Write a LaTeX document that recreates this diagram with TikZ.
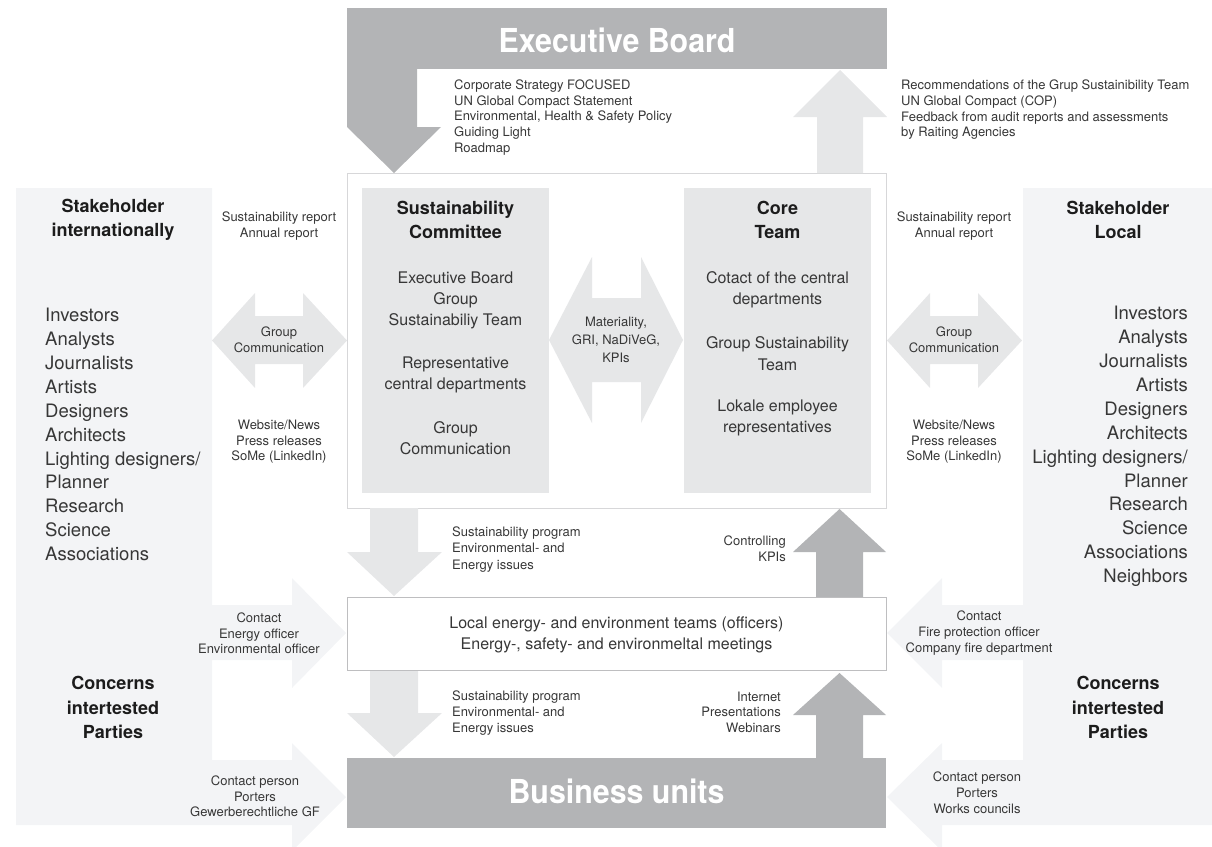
\documentclass[tikz,border=0pt]{standalone}
\usepackage{fontspec}
\setmainfont{TeX Gyre Heros}
\newfontfamily\condfont[FakeStretch=0.92]{TeX Gyre Heros}
\definecolor{dk}{RGB}{179,180,182}
\definecolor{md}{RGB}{230,231,232}
\definecolor{lt}{RGB}{243,244,246}
\definecolor{bd}{RGB}{215,215,217}
\definecolor{bd2}{RGB}{190,190,192}
\definecolor{tx}{RGB}{55,55,55}
\definecolor{tt}{RGB}{28,28,28}
\tikzset{
  sm/.style={text=tx, inner sep=0pt, align=center, font=\fontsize{13}{15.75}\selectfont},
  med/.style={text=tx, inner sep=0pt, align=center, font=\fontsize{16}{21.3}\selectfont},
  big/.style={text=tx, inner sep=0pt, font=\fontsize{18.5}{23.9}\selectfont},
  ttl/.style={text=tt, inner sep=0pt, align=center, font=\fontsize{18}{24}\selectfont\bfseries},
  huge/.style={text=white, inner sep=0pt, font=\condfont\bfseries\fontsize{33}{33}\selectfont},
}
\begin{document}
\begin{tikzpicture}[x=1pt,y=-1pt]
\useasboundingbox (0,0) rectangle (1212,846);
% stakeholder panels with contact arrows
\fill[lt] (16,188) -- (212,188) -- (212,605) -- (292,605) -- (292,578) -- (346,633) -- (292,688) -- (292,660) -- (212,660) -- (212,760) -- (292,760) -- (292,743) -- (346,797) -- (292,851) -- (292,825) -- (16,825) -- cycle;
\fill[lt] (1212,188) -- (1023,188) -- (1023,605) -- (942,605) -- (942,578) -- (887,633) -- (942,688) -- (942,660) -- (1023,660) -- (1023,760) -- (942,760) -- (942,743) -- (887,797) -- (942,851) -- (942,825) -- (1212,825) -- cycle;
% executive board and its down arrow
\fill[dk] (347,8) rectangle (887,69);
\fill[dk] (347,69) -- (417,69) -- (417,127) -- (441,127) -- (394,173) -- (347,127) -- cycle;
% centre box
\draw[bd, fill=white, line width=1pt] (347,173) rectangle (886,508);
% up arrow to executive board
\fill[md] (817,173) -- (817,117) -- (793,117) -- (840,70) -- (887,117) -- (863,117) -- (863,173) -- cycle;
% committee and core team
\fill[md] (362,188) rectangle (549,493);
\fill[md] (684,188) rectangle (871,493);
% materiality double arrow
\fill[md] (549,340) -- (592,257) -- (592,298) -- (641,298) -- (641,257) -- (683,340) -- (641,423) -- (641,382) -- (592,382) -- (592,423) -- cycle;
% group communication double arrows
\fill[md] (212,340.5) -- (255,293) -- (255,316) -- (303,316) -- (303,293) -- (347,340.5) -- (303,388) -- (303,364) -- (255,364) -- (255,388) -- cycle;
\fill[md] (887,340.5) -- (930,293) -- (930,316) -- (978,316) -- (978,293) -- (1022,340.5) -- (978,388) -- (978,364) -- (930,364) -- (930,388) -- cycle;
% down arrows (light)
\fill[md] (370,508) -- (418,508) -- (418,552) -- (442,552) -- (394,596) -- (347,552) -- (370,552) -- cycle;
\fill[md] (370,670) -- (418,670) -- (418,713) -- (442,713) -- (394,757) -- (347,713) -- (370,713) -- cycle;
% up arrows (dark)
\fill[dk] (816,597) -- (816,552) -- (793,552) -- (839.5,509) -- (886,552) -- (863,552) -- (863,597) -- cycle;
\fill[dk] (816,758) -- (816,715) -- (793,715) -- (839.5,673) -- (886,715) -- (863,715) -- (863,758) -- cycle;
% local box and business units
\draw[bd2, fill=white, line width=1pt] (347,597) rectangle (886,670);
\fill[dk] (347,758) rectangle (886,828);

% ---- texts ----
\node[huge, anchor=base] (exec) at (617,52) {Executive Board};
\node[huge, anchor=base] (bu) at (616.5,803) {Business units};
\node[sm, anchor=west, align=left] (strat) at (454,117.4) {Corporate Strategy FOCUSED\\UN Global Compact Statement\\Environmental, Health \& Safety Policy\\Guiding Light\\Roadmap};
\node[sm, anchor=west, align=left] (reco) at (901,109.8) {Recommendations of the Grup Sustainibility Team\\UN Global Compact (COP)\\Feedback from audit reports and assessments\\by Raiting Agencies};

\node[ttl] (shi) at (113,220) {Stakeholder\\internationally};
\node[ttl] (shl) at (1118,220) {Stakeholder\\Local};
\node[big, anchor=west, align=left] (listl) at (45,434.5) {Investors\\Analysts\\Journalists\\Artists\\Designers\\Architects\\Lighting designers/\\Planner\\Research\\Science\\Associations};
\node[big, anchor=east, align=right] (listr) at (1188,446.5) {Investors\\Analysts\\Journalists\\Artists\\Designers\\Architects\\Lighting designers/\\Planner\\Research\\Science\\Associations\\Neighbors};

\node[sm] (repl) at (279,226) {Sustainability report\\Annual report};
\node[sm] (repr) at (954,226) {Sustainability report\\Annual report};
\node[sm] (gcl) at (279,339.5) {Group\\Communication};
\node[sm] (gcr) at (954,339.5) {Group\\Communication};
\node[sm] (webl) at (279,441.7) {Website/News\\Press releases\\SoMe (LinkedIn)};
\node[sm] (webr) at (954,441.7) {Website/News\\Press releases\\SoMe (LinkedIn)};

\node[ttl] (sct) at (455.5,220) {Sustainability\\Committee};
\node[ttl] (ctt) at (777.5,220) {Core\\Team};
\node[med] (sc1) at (455.5,300.5) {Executive Board\\Group\\Sustainabiliy Team};
\node[med] (sc2) at (455.5,375) {Representative\\central departments};
\node[med] (sc3) at (455.5,438.5) {Group\\Communication};
\node[med] (ct1) at (777.5,289.5) {Cotact of the central\\departments};
\node[med] (ct2) at (777.5,353.5) {Group Sustainability\\Team};
\node[med] (ct3) at (777.5,418) {Lokale employee\\representatives};
\node[sm, font=\fontsize{13}{18}\selectfont] (mat) at (616,340) {Materiality,\\GRI, NaDiVeG,\\KPIs};

\node[sm, anchor=west, align=left, font=\fontsize{13}{16.4}\selectfont] (sp1) at (452,549.3) {Sustainability program\\Environmental- and\\Energy issues};
\node[sm, anchor=west, align=left, font=\fontsize{13}{16.2}\selectfont] (sp2) at (452,713) {Sustainability program\\Environmental- and\\Energy issues};
\node[sm, anchor=east, align=right, font=\fontsize{13}{16}\selectfont] (ctrl) at (786,549) {Controlling\\KPIs};
\node[sm, anchor=east, align=right] (inet) at (781,712.3) {Internet\\Presentations\\Webinars};
\node[med, font=\fontsize{16}{21}\selectfont] (loc) at (616.5,634.5) {Local energy- and environment teams (officers)\\Energy-, safety- and environmeltal meetings};

\node[sm] (cl1) at (259,633.3) {Contact\\Energy officer\\Environmental officer};
\node[sm] (cl2) at (255,796.3) {Contact person\\Porters\\Gewerberechtliche GF};
\node[sm] (cr1) at (979,633.3) {Contact\\Fire protection officer\\Company fire department};
\node[sm] (cr2) at (977,792.5) {Contact person\\Porters\\Works councils};

\node[ttl, font=\fontsize{18}{24.5}\selectfont\bfseries] (cpl) at (113,707.7) {Concerns\\intertested\\Parties};
\node[ttl, font=\fontsize{18}{24.5}\selectfont\bfseries] (cpr) at (1118,707.7) {Concerns\\intertested\\Parties};
\end{tikzpicture}
\end{document}
